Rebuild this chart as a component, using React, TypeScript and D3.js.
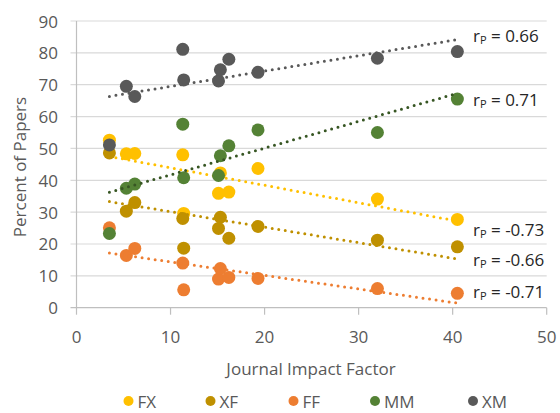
import React from "react";
import * as d3 from "d3";

const journalIF = [3.5, 5.3, 6.2, 11.3, 11.4, 15.1, 15.3, 16.2, 19.3, 32.0, 40.5];
const seriesNames = ["FX", "XF", "FF", "MM", "XM"];
const fxValues = [52.6, 48.3, 48.4, 48.0, 29.6, 35.9, 42.3, 36.3, 43.7, 34.1, 27.7];
const xfValues = [48.6, 30.3, 33.0, 28.0, 18.7, 24.9, 28.4, 21.8, 25.5, 21.2, 19.1];
const ffValues = [25.1, 16.4, 18.6, 14.0, 5.6, 9.0, 12.3, 9.5, 9.2, 6.0, 4.5];
const mmValues = [23.3, 37.5, 38.8, 57.6, 40.8, 41.5, 47.7, 50.8, 55.8, 55.0, 65.5];
const xmValues = [51.1, 69.5, 66.3, 81.1, 71.5, 71.2, 74.7, 78.0, 73.9, 78.3, 80.4];
const rLabels = ["-0.73", "-0.66", "-0.71", "0.71", "0.66"];
const xTicks = [0, 10, 20, 30, 40, 50];
const yTicks = [0, 10, 20, 30, 40, 50, 60, 70, 80, 90];

const pointColors = ["#FFC000", "#BF9000", "#ED7D31", "#548235", "#595959"];
const lineColors = ["#FFC000", "#BF9000", "#ED7D31", "#375623", "#595959"];
const labelY = [229, 259, 291, 99, 35];
const legendX = [128.5, 210.5, 293.5, 375, 473];

const FONT = "'Open Sans', sans-serif";
const TEXT = "#595959";

function regression(xs: number[], ys: number[]) {
  const mx = d3.mean(xs)!;
  const my = d3.mean(ys)!;
  let sxy = 0, sxx = 0;
  xs.forEach((x, i) => {
    sxy += (x - mx) * (ys[i] - my);
    sxx += (x - mx) * (x - mx);
  });
  const b = sxy / sxx;
  return (x: number) => my + b * (x - mx);
}

export default function App() {
  const x = d3.scaleLinear().domain([0, 50]).range([76.5, 546.7]);
  const y = d3.scaleLinear().domain([0, 90]).range([307.7, 21]);
  const allSeries = [fxValues, xfValues, ffValues, mmValues, xmValues];
  const [xMin, xMax] = d3.extent(journalIF) as [number, number];
  const line = d3.line<[number, number]>().x((d) => x(d[0])).y((d) => y(d[1]));

  return (
    <div style={{ position: "fixed", left: 0, top: 0 }}>
      <svg width={560} height={413} style={{ display: "block", background: "#fff" }}>
        {yTicks.map((t) => (
          <line key={"g" + t} x1={x(0) - 6} x2={x(50)} y1={y(t)} y2={y(t)}
            stroke={t === 0 ? "#bfbfbf" : "#d9d9d9"} strokeWidth={1.2} />
        ))}
        <line x1={x(0)} x2={x(0)} y1={y(90)} y2={y(0)} stroke="#bfbfbf" strokeWidth={1.2} />
        {xTicks.map((t) => (
          <line key={"xt" + t} x1={x(t)} x2={x(t)} y1={y(0)} y2={y(0) + 7} stroke="#bfbfbf" strokeWidth={1.2} />
        ))}
        {yTicks.map((t) => (
          <text key={"yl" + t} x={58} y={y(t)} textAnchor="end" dominantBaseline="central"
            fontFamily={FONT} fontSize={17} fill={TEXT}>{t}</text>
        ))}
        {xTicks.map((t) => (
          <text key={"xl" + t} x={x(t)} y={336} textAnchor="middle" dominantBaseline="central"
            fontFamily={FONT} fontSize={17} fill={TEXT}>{t}</text>
        ))}
        <text x={311} y={368} textAnchor="middle" dominantBaseline="central"
          fontFamily={FONT} fontSize={17} fill={TEXT}>Journal Impact Factor</text>
        <text transform={`translate(19,167) rotate(-90)`} textAnchor="middle" dominantBaseline="central"
          fontFamily={FONT} fontSize={17} fill={TEXT}>Percent of Papers</text>

        {allSeries.map((vals, si) => {
          const f = regression(journalIF, vals);
          return (
            <g key={"s" + si}>
              {vals.map((v, i) => (
                <circle key={i} cx={x(journalIF[i])} cy={y(v)} r={6.5} fill={pointColors[si]} />
              ))}
              <path d={line([[xMin, f(xMin)], [xMax, f(xMax)]])!} fill="none"
                stroke={lineColors[si]} strokeWidth={3} strokeLinecap="round" strokeDasharray="0 6.6" />
            </g>
          );
        })}

        {rLabels.map((r, si) => (
          <text key={"r" + si} x={473} y={labelY[si]} dominantBaseline="central"
            fontFamily={FONT} fontSize={17} fill="#262626">
            r<tspan fontSize={11} dy={4}>P</tspan><tspan dy={-4}>{" = " + r}</tspan>
          </text>
        ))}

        {seriesNames.map((n, si) => (
          <g key={"lg" + si}>
            <circle cx={legendX[si]} cy={401} r={5} fill={pointColors[si]} />
            <text x={legendX[si] + 9} y={401} dominantBaseline="central"
              fontFamily={FONT} fontSize={17} fill={TEXT}>{n}</text>
          </g>
        ))}
      </svg>
    </div>
  );
}
